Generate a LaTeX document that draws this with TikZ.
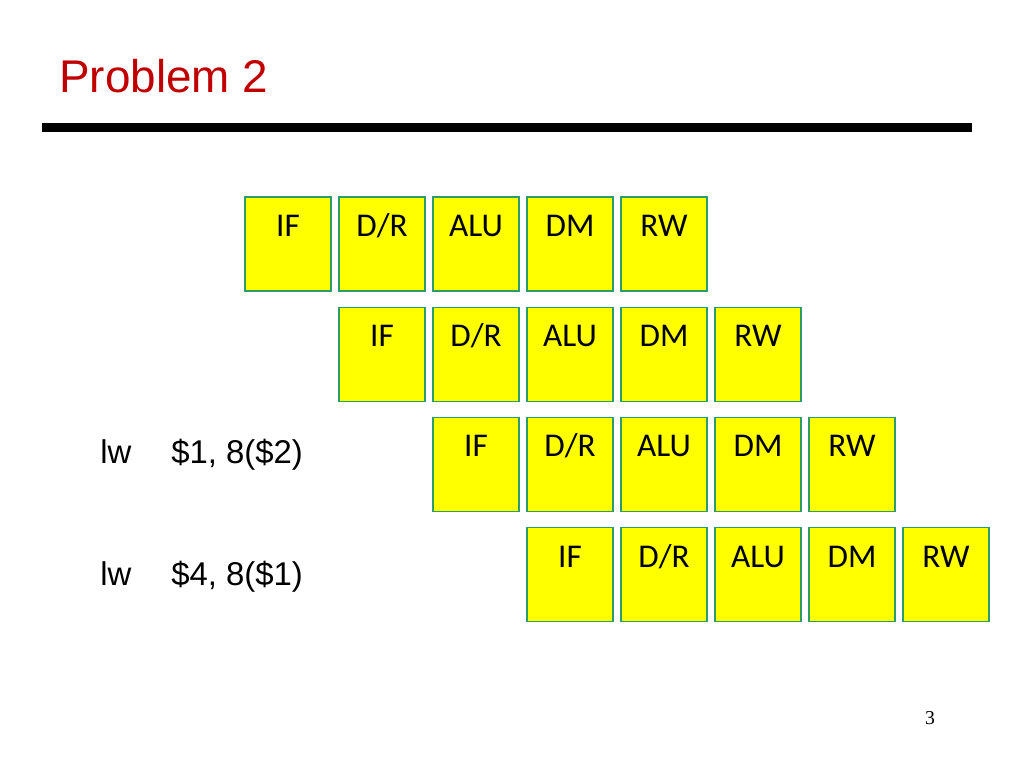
\documentclass[tikz,border=0pt]{standalone}
\usepackage{fontspec}
\setmainfont{Liberation Sans}
\newfontfamily\stagefont{Carlito}
\newfontfamily\pagefont{Liberation Serif}
\definecolor{titlered}{HTML}{C00000}
\definecolor{stageedge}{HTML}{2E9B6A}
\definecolor{stagefill}{HTML}{FFFF00}
\begin{document}
\begin{tikzpicture}[x=0.025cm,y=-0.025cm,
    stage/.style={draw=stageedge, fill=stagefill, line width=0.8pt, inner sep=0pt,
        minimum width=2.15cm, text height=0.98cm, text depth=1.37cm,
        font=\stagefont\fontsize{23.6}{26}\selectfont},
    instr/.style={anchor=base west, inner sep=0pt, font=\fontsize{23.4}{26}\selectfont}]
    \useasboundingbox (0,0) rectangle (1024,768);
    \node[anchor=base west, inner sep=0pt, text=titlered, font=\fontsize{32.6}{36}\selectfont] (title) at (59,93) {Problem 2};
    \draw[line width=0.225cm] (42,127.5) -- (972,127.5);
    % pipeline stages, one row per instruction
    \foreach \r in {0,...,3}
        \foreach \s [count=\c from 0] in {IF,D/R,ALU,DM,RW}
            \node[stage] (r\r-\c) at ({288+94*(\r+\c)},{244+110.3*\r}) {\s};
    \node[instr] (op1) at (100,463) {lw};
    \node[instr] (arg1) at (171,463) {\$1, 8(\$2)};
    \node[instr] (op2) at (100,585) {lw};
    \node[instr] (arg2) at (171,585) {\$4, 8(\$1)};
    \node[anchor=base, inner sep=0pt, font=\pagefont\fontsize{14}{16}\selectfont] (pagenum) at (930,724) {3};
\end{tikzpicture}
\end{document}
